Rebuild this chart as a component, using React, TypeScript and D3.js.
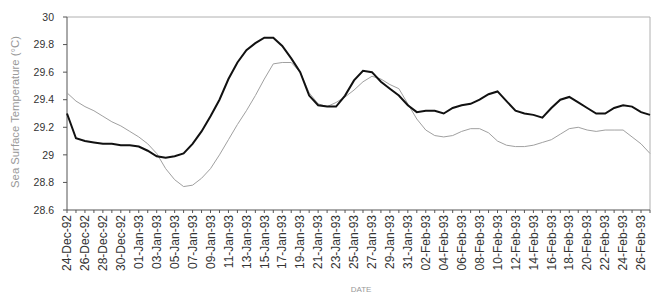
import React from "react";
import * as d3 from "d3";

const startDate = new Date(1992, 11, 24);
const yTicks = [28.6, 28.8, 29, 29.2, 29.4, 29.6, 29.8, 30];

const blackSeries = [
  29.30, 29.12, 29.10, 29.09, 29.08, 29.08, 29.07, 29.07, 29.06, 29.03,
  28.99, 28.98, 28.99, 29.01, 29.08, 29.17, 29.28, 29.40, 29.55, 29.67,
  29.76, 29.81, 29.85, 29.85, 29.79, 29.70, 29.60, 29.43, 29.36, 29.35,
  29.35, 29.43, 29.54, 29.61, 29.60, 29.53, 29.48, 29.43, 29.36, 29.31,
  29.32, 29.32, 29.30, 29.34, 29.36, 29.37, 29.40, 29.44, 29.46, 29.39,
  29.32, 29.30, 29.29, 29.27, 29.34, 29.40, 29.42, 29.38, 29.34, 29.30,
  29.30, 29.34, 29.36, 29.35, 29.31, 29.29,
];

const greySeries = [
  29.45, 29.39, 29.35, 29.32, 29.28, 29.24, 29.21, 29.17, 29.13, 29.08,
  29.01, 28.90, 28.82, 28.77, 28.78, 28.83, 28.90, 29.00, 29.11, 29.22,
  29.32, 29.43, 29.55, 29.66, 29.67, 29.67, 29.60, 29.45, 29.37, 29.35,
  29.38, 29.42, 29.47, 29.53, 29.57, 29.55, 29.51, 29.48, 29.37, 29.26,
  29.18, 29.14, 29.13, 29.14, 29.17, 29.19, 29.19, 29.16, 29.10, 29.07,
  29.06, 29.06, 29.07, 29.09, 29.11, 29.15, 29.19, 29.20, 29.18, 29.17,
  29.18, 29.18, 29.18, 29.13, 29.08, 29.01,
];

const W = 662;
const H = 299;
const left = 67;
const right = 650;
const top = 17;
const bottom = 210;

const fmt = d3.timeFormat("%d-%b-%y");

export default function App() {
  const nDays = blackSeries.length - 1;
  const x = d3.scaleLinear().domain([0, nDays]).range([left, right]);
  const y = d3.scaleLinear().domain([28.6, 30]).range([bottom, top]);
  const line = d3
    .line<number>()
    .x((_, i) => x(i))
    .y((d) => y(d));
  const dayIdx = d3.range(0, nDays + 1);
  const labelIdx = dayIdx.filter((i) => i % 2 === 0 && i <= 64);
  const font = "Liberation Sans, Arial, sans-serif";
  return (
    <svg
      width={W}
      height={H}
      style={{ position: "absolute", left: 0, top: 0, background: "#fff" }}
      fontFamily={font}
    >
      <line x1={left} x2={right} y1={top} y2={top} stroke="#b0b0b0" strokeWidth={1} />
      <line x1={right} x2={right} y1={top} y2={bottom} stroke="#b0b0b0" strokeWidth={1} />
      <line x1={left} x2={left} y1={top} y2={bottom} stroke="#555" strokeWidth={1} />
      {yTicks.map((t) => (
        <g key={t}>
          <line x1={left - 4} x2={left} y1={y(t)} y2={y(t)} stroke="#555" />
          <text
            x={54}
            y={y(t)}
            dy="0.35em"
            textAnchor="end"
            fontSize={10.5}
            fill="#333"
          >
            {t === 29 ? "29" : t === 30 ? "30" : t.toFixed(1)}
          </text>
        </g>
      ))}
      <line x1={left} x2={right} y1={bottom} y2={bottom} stroke="#555" strokeWidth={1} />
      {dayIdx.map((i) => (
        <line key={i} x1={x(i)} x2={x(i)} y1={bottom} y2={bottom + 3} stroke="#555" />
      ))}
      {labelIdx.map((i) => {
        const dt = d3.timeDay.offset(startDate, i);
        const px = x(i);
        return (
          <text
            key={i}
            transform={`translate(${px},215) rotate(-90)`}
            dy="0.35em"
            textAnchor="end"
            fontSize={12}
            fill="#333"
          >
            {fmt(dt)}
          </text>
        );
      })}
      <path d={line(greySeries) || ""} fill="none" stroke="#a0a0a0" strokeWidth={1} />
      <path d={line(blackSeries) || ""} fill="none" stroke="#111" strokeWidth={2} />
      <text
        transform={`translate(15,112) rotate(-90)`}
        dy="0.35em"
        textAnchor="middle"
        fontSize={11.3}
        fill="#999"
      >
        Sea Surface Temperature (°C)
      </text>
      <text x={361} y={289} dy="0.35em" textAnchor="middle" fontSize={8} fill="#999">
        DATE
      </text>
    </svg>
  );
}
